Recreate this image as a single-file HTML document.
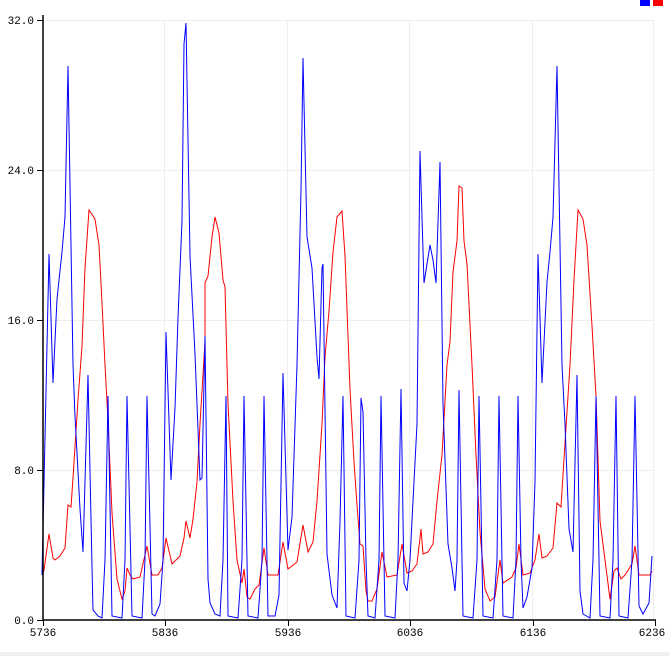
<!DOCTYPE html>
<html><head><meta charset="utf-8"><style>
body{margin:0;background:#fff;width:669px;height:656px;overflow:hidden}
svg{display:block}
text{font-family:"Liberation Mono",monospace;font-size:11px;fill:#000}
</style></head><body>
<svg width="669" height="656" viewBox="0 0 669 656">
<rect x="0" y="0" width="669" height="656" fill="#fff"/>
<rect x="0" y="652" width="669" height="4" fill="#f0f0f0"/>
<g stroke="#eeeeee" stroke-width="1">
<line x1="43" y1="20.5" x2="653" y2="20.5"/>
<line x1="43" y1="170.5" x2="653" y2="170.5"/>
<line x1="43" y1="320.5" x2="653" y2="320.5"/>
<line x1="43" y1="470.5" x2="653" y2="470.5"/>
<line x1="164.5" y1="20" x2="164.5" y2="620"/>
<line x1="287.5" y1="20" x2="287.5" y2="620"/>
<line x1="409.5" y1="20" x2="409.5" y2="620"/>
<line x1="532.5" y1="20" x2="532.5" y2="620"/>
<line x1="653.5" y1="20" x2="653.5" y2="620"/>
</g>
<rect x="640" y="0" width="10" height="6" fill="#0000ff"/>
<rect x="653" y="0" width="10" height="6" fill="#ff0000"/>
<polyline fill="none" stroke="#ff0000" stroke-width="1" points="42,575 44,570 49,534 53,558 55,560 60,556 65,548 68,505 71,507 73,478 78,400 82,346 85,268 89,210 95,219 99,245 102,303 105,365 108,420 112,513 117,579 122,599 125,591 127,568 130,575 133,579 140,577 147,546 152,575 158,575 162,568 166,538 172,564 180,556 184,538 186,521 190,538 193,519 197,482 200,424 205,342 205,283 208,276 212,237 215,217 219,233 223,280 225,287 228,404 233,501 237,560 242,583 244,569 247,597 250,599 255,589 259,585 264,548 268,575 278,575 283,542 288,569 297,562 303,525 308,552 313,542 317,501 322,424 325,357 329,311 333,252 337,217 342,211 345,256 350,389 354,462 357,505 360,544 363,546 366,591 368,601 372,601 377,589 382,552 387,577 397,575 402,544 407,573 412,571 417,564 421,529 423,554 428,552 433,544 437,501 442,455 447,365 450,342 453,272 457,241 459,186 462,188 464,241 467,264 472,365 476,455 480,532 485,589 490,601 495,597 500,560 503,583 512,577 516,568 519,544 523,575 530,573 535,560 539,534 542,558 547,556 553,548 557,503 561,507 565,443 570,365 574,280 578,210 583,219 587,245 592,326 596,396 600,521 605,560 610,599 614,571 617,568 621,579 625,575 632,564 635,546 639,575 650,575 652,571"/>
<polyline fill="none" stroke="#0000ff" stroke-width="1" points="42,575 49,254 53,383 57,299 62,252 65,217 68,66 73,365 75,416 80,509 83,552 88,375 92,567 93,610 98,616 102,618 105,560 108,396 112,616 122,618 125,560 127,396 132,616 142,618 145,560 147,396 152,614 155,616 160,604 163,560 166,332 171,480 175,408 178,318 182,221 184,44 186,23 190,256 195,354 200,480 202,478 205,336 208,579 210,603 215,614 220,616 223,560 226,396 228,616 238,618 242,560 244,396 248,616 258,618 262,560 264,396 268,616 275,616 279,595 283,373 288,550 292,517 297,365 301,190 303,58 307,237 312,268 317,357 319,379 322,268 323,264 327,554 332,595 337,608 340,521 343,396 346,616 355,618 359,560 361,398 363,412 366,560 368,616 375,618 379,560 381,396 385,616 395,618 398,560 401,389 404,583 407,591 410,560 413,501 417,424 420,151 424,283 427,264 430,245 433,260 436,283 440,162 443,404 448,544 452,568 455,591 457,560 459,390 463,616 473,618 477,560 479,396 483,616 493,618 497,560 499,396 503,616 513,618 516,560 518,396 521,560 523,608 527,597 532,568 535,482 538,254 542,383 547,282 550,252 553,217 557,66 562,365 565,424 569,529 573,552 577,375 580,591 583,614 590,618 593,560 596,396 600,616 610,618 613,560 616,396 619,616 628,618 632,560 635,396 639,606 643,614 649,603 652,556"/>
<g stroke="#000" stroke-width="1.5">
<line x1="43" y1="15" x2="43" y2="620"/>
<line x1="43" y1="620" x2="656" y2="620"/>
</g>
<g stroke="#000" stroke-width="1">
<line x1="37" y1="20.5" x2="43" y2="20.5"/>
<line x1="37" y1="170.5" x2="43" y2="170.5"/>
<line x1="37" y1="320.5" x2="43" y2="320.5"/>
<line x1="37" y1="470.5" x2="43" y2="470.5"/>
<line x1="37" y1="620.5" x2="43" y2="620.5"/>
<line x1="43.5" y1="620" x2="43.5" y2="626"/>
<line x1="165.5" y1="620" x2="165.5" y2="626"/>
<line x1="288.5" y1="620" x2="288.5" y2="626"/>
<line x1="410.5" y1="620" x2="410.5" y2="626"/>
<line x1="533.5" y1="620" x2="533.5" y2="626"/>
<line x1="655.5" y1="620" x2="655.5" y2="626"/>
</g>
<g text-anchor="end">
<text x="34" y="24">32.0</text>
<text x="34" y="174">24.0</text>
<text x="34" y="324">16.0</text>
<text x="34" y="474">8.0</text>
<text x="34" y="624">0.0</text>
</g>
<g text-anchor="middle">
<text x="43" y="636">5736</text>
<text x="165" y="636">5836</text>
<text x="288" y="636">5936</text>
<text x="410" y="636">6036</text>
<text x="533" y="636">6136</text>
<text x="652" y="636">6236</text>
</g>
</svg>
</body></html>
